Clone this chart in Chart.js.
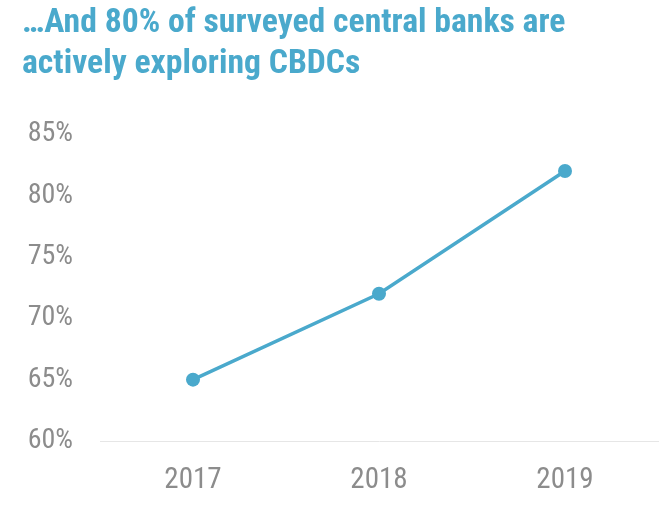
<!DOCTYPE html>
<html>
<head>
<meta charset="utf-8">
<script src="https://cdn.jsdelivr.net/npm/chart.js@4"></script>
<style>
html,body{margin:0;padding:0;background:#fff;}
#wrap{width:668px;height:506px;}
</style>
</head>
<body>
<div id="wrap"><canvas id="c" width="668" height="506"></canvas></div>
<script>
const categories = ["2017", "2018", "2019"];
const shareExploring = [65, 72, 82];
const yTicks = [60, 65, 70, 75, 80, 85];
const titleLines = ["…And 80% of surveyed central banks are", "actively exploring CBDCs"];

const blue = "#4aa9cc";
const gray = "#8c8c8c";
const condensed = "'Roboto Condensed','Liberation Sans Narrow','DejaVu Sans Condensed',Roboto,sans-serif";

new Chart(document.getElementById("c"), {
  type: "line",
  data: {
    labels: categories,
    datasets: [{
      data: shareExploring,
      borderColor: blue,
      backgroundColor: blue,
      borderWidth: 3.5,
      pointRadius: 7,
      pointBorderWidth: 0,
      pointBackgroundColor: blue,
      tension: 0
    }]
  },
  options: {
    responsive: false,
    animation: false,
    layout: { padding: { left: 22, right: 10, top: 4, bottom: 12 } },
    plugins: {
      legend: { display: false },
      tooltip: { enabled: false },
      title: {
        display: true,
        text: titleLines,
        align: "start",
        color: blue,
        font: { family: condensed, size: 33.7, weight: "bold", lineHeight: 1.19 },
        padding: { top: 0, bottom: 50 }
      }
    },
    scales: {
      x: {
        offset: true,
        afterFit: (axis) => { axis.height = 53; },
        grid: { display: false, drawTicks: false },
        border: { display: true, color: "#e6e6e6", width: 1 },
        ticks: { color: gray, font: { family: condensed, size: 29 }, padding: 22 }
      },
      y: {
        min: yTicks[0],
        max: yTicks[yTicks.length - 1],
        afterBuildTicks: (axis) => { axis.ticks = yTicks.map(v => ({ value: v })); },
        afterFit: (axis) => { axis.width = 78; },
        grid: { display: false, drawTicks: false },
        border: { display: false },
        ticks: {
          color: gray,
          font: { family: condensed, size: 28 },
          padding: 27,
          callback: (v) => v + "%"
        }
      }
    }
  }
});
</script>
</body>
</html>
